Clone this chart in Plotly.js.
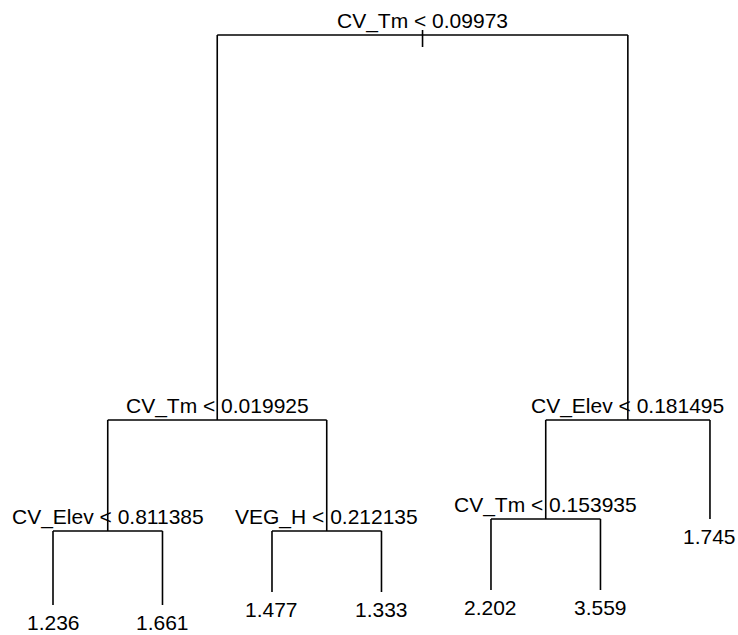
<!DOCTYPE html>
<html>
<head>
<meta charset="utf-8">
<script src="https://cdn.plot.ly/plotly-3.0.1.min.js"></script>
<style>
  html, body { margin: 0; padding: 0; background: #ffffff; }
  #chart { width: 738px; height: 635px; }
</style>
</head>
<body>
<div id="chart"></div>
<script>
// Regression tree, nodes numbered as in R's tree(): children of n are 2n and 2n+1.
const nodeIds   = [1, 2, 3, 4, 5, 6, 7, 8, 9, 10, 11, 12, 13];
const splitVar  = ["CV_Tm", "CV_Tm", "CV_Elev", "CV_Elev", "VEG_H", "CV_Tm", null, null, null, null, null, null, null];
const splitCut  = ["0.09973", "0.019925", "0.181495", "0.811385", "0.212135", "0.153935", null, null, null, null, null, null, null];
const leafValue = [null, null, null, null, null, null, "1.745", "1.236", "1.661", "1.477", "1.333", "2.202", "3.559"];
// Node heights (deviance scale) used for the vertical position of each node.
const nodeDev   = [120, 43, 43, 20.8, 20.8, 23.2, 23.2, 6, 6, 8.6, 8.6, 9, 9];

const idx = {};
nodeIds.forEach((id, i) => { idx[id] = i; });
const isLeaf = id => splitVar[idx[id]] === null;

// Leaves are spaced evenly left to right; internal nodes sit midway between their children.
const xPos = {};
let leafCounter = 0;
function place(id) {
  if (isLeaf(id)) { leafCounter += 1; xPos[id] = leafCounter; return; }
  place(2 * id); place(2 * id + 1);
  xPos[id] = (xPos[2 * id] + xPos[2 * id + 1]) / 2;
}
place(1);

const segX = [], segY = [];
function seg(x0, y0, x1, y1) { segX.push(x0, x1, null); segY.push(y0, y1, null); }

const annotations = [];
const font = { family: "Liberation Sans, Arial, sans-serif", size: 21, color: "#000000" };

nodeIds.forEach(id => {
  const i = idx[id];
  const x = xPos[id], y = nodeDev[i];
  if (!isLeaf(id)) {
    const l = 2 * id, r = 2 * id + 1;
    // horizontal bar and the two drops to the children
    seg(xPos[l], y, xPos[r], y);
    seg(xPos[l], y, xPos[l], nodeDev[idx[l]]);
    seg(xPos[r], y, xPos[r], nodeDev[idx[r]]);
    annotations.push({
      x: x, y: y, xref: "x", yref: "y",
      text: splitVar[i] + " < " + splitCut[i],
      showarrow: false, xanchor: "center", yanchor: "bottom",
      yshift: 0, font: font
    });
  } else {
    annotations.push({
      x: x, y: y, xref: "x", yref: "y",
      text: leafValue[i],
      showarrow: false, xanchor: "center", yanchor: "top",
      yshift: -4, font: font
    });
  }
});
// short stub through the root
seg(xPos[1], nodeDev[0] + 1, xPos[1], nodeDev[0] - 2.4);

const trace = {
  x: segX, y: segY, mode: "lines", type: "scatter",
  line: { color: "#000000", width: 1.6 },
  hoverinfo: "skip", showlegend: false, connectgaps: false
};

const layout = {
  width: 738, height: 635,
  margin: { l: 0, r: 0, t: 0, b: 0 },
  paper_bgcolor: "#ffffff", plot_bgcolor: "#ffffff",
  xaxis: { range: [0.516, 7.256], visible: false, fixedrange: true },
  yaxis: { range: [0, 127], visible: false, fixedrange: true },
  annotations: annotations,
  showlegend: false
};

Plotly.newPlot("chart", [trace], layout, { displayModeBar: false, staticPlot: true });
</script>
</body>
</html>
